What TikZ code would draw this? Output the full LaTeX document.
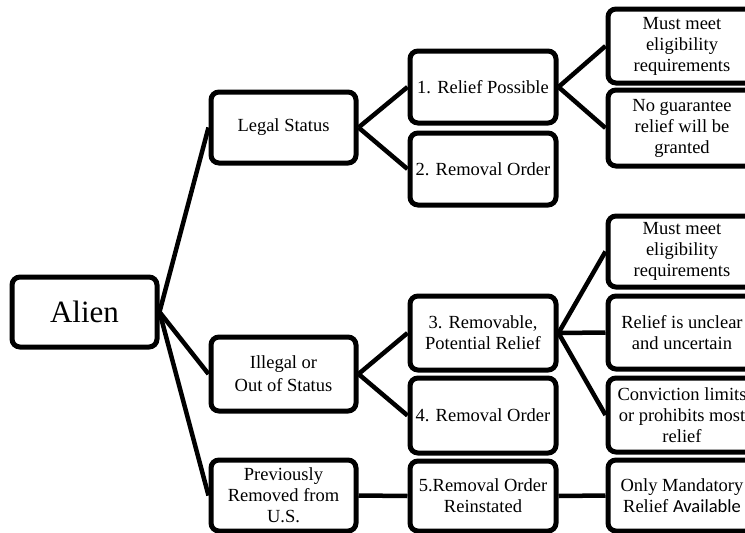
\documentclass[tikz,border=0pt]{standalone}
\usepackage{fontspec}
\setmainfont{Liberation Serif}
\newfontfamily\calfont{Carlito}
\begin{document}
\begin{tikzpicture}[x=1pt,y=-1pt,
  box/.style={draw=black, line width=5pt, rounded corners=8pt, fill=white,
    align=center, inner sep=0pt, font=\fontsize{18.5}{21}\selectfont},
  conn/.style={line width=4.5pt}]
\useasboundingbox (0,0) rectangle (745,533);
\clip (0,0) rectangle (745,533);
% nodes
\node[box, minimum width=145pt, minimum height=70pt, font=\fontsize{31}{34}\selectfont] (alien) at (84.5,312) {Alien};
\node[box, minimum width=145pt, minimum height=71pt] (legal) at (283.5,127.5) {Legal Status};
\node[box, minimum width=145pt, minimum height=74pt] (illegal) at (283.5,374) {Illegal or\\[2pt]Out of Status};
\node[box, minimum width=145pt, minimum height=71pt] (prev) at (283.5,495.5) {Previously\\Removed from\\U.S.};
\node[box, minimum width=146pt, minimum height=72pt] (r1) at (483,87) {1. Relief Possible};
\node[box, minimum width=146pt, minimum height=72pt] (r2) at (483,169) {2. Removal Order};
\node[box, minimum width=146pt, minimum height=74pt] (r3) at (483,333) {3. Removable,\\Potential Relief};
\node[box, minimum width=146pt, minimum height=75pt] (r4) at (483,415.5) {4. Removal Order};
\node[box, minimum width=146pt, minimum height=70pt] (r5) at (483,496) {5.Removal Order\\Reinstated};
\node[box, minimum width=148pt, minimum height=74pt] (a1) at (682,46) {Must meet\\eligibility\\requirements};
\node[box, minimum width=148pt, minimum height=76pt] (a2) at (682,128) {No guarantee\\relief will be\\granted};
\node[box, minimum width=148pt, minimum height=71pt] (b1) at (682,251.5) {Must meet\\eligibility\\requirements};
\node[box, minimum width=148pt, minimum height=73pt] (b2) at (682,332.5) {Relief is unclear\\and uncertain};
\node[box, minimum width=148pt, minimum height=74pt] (b3) at (682,415) {Conviction limits\\or prohibits most\\relief};
\node[box, minimum width=148pt, minimum height=71pt] (c1) at (682,495.5) {Only Mandatory\\Relief {\calfont Available}};
% connectors
\draw[conn] (alien.east) -- (legal.west);
\draw[conn] (alien.east) -- (illegal.west);
\draw[conn] (alien.east) -- (prev.west);
\draw[conn] (legal.east) -- (r1.west);
\draw[conn] (legal.east) -- (r2.west);
\draw[conn] (illegal.east) -- (r3.west);
\draw[conn] (illegal.east) -- (r4.west);
\draw[conn] (prev.east) -- (r5.west);
\draw[conn] (r1.east) -- (a1.west);
\draw[conn] (r1.east) -- (a2.west);
\draw[conn] (r3.east) -- (b1.west);
\draw[conn] (r3.east) -- (b2.west);
\draw[conn] (r3.east) -- (b3.west);
\draw[conn] (r5.east) -- (c1.west);
\end{tikzpicture}
\end{document}
